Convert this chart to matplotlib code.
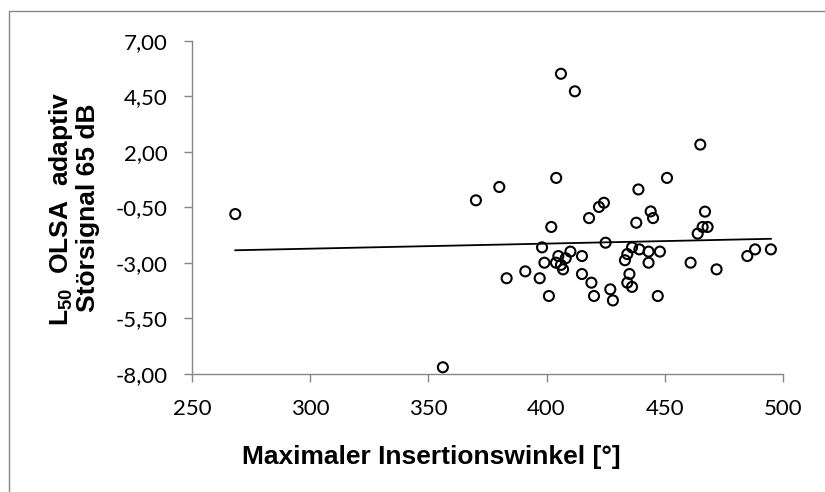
import numpy as np
import matplotlib
matplotlib.use("Agg")
import matplotlib.pyplot as plt
from matplotlib.lines import Line2D

plt.rcParams['mathtext.fontset'] = 'custom'
plt.rcParams['mathtext.rm'] = 'Liberation Sans'
plt.rcParams['mathtext.bf'] = 'Liberation Sans:bold'

# Data
insertion_angle = [406.1, 412.0, 465.1, 404.1, 451.0, 380.0, 370.1, 438.9, 424.3, 422.2,
                   418.0, 444.1, 445.1, 438.0, 402.0, 467.1, 466.1, 468.2, 464.0, 425.0,
                   398.1, 410.1, 405.0, 408.1, 415.0, 399.1, 404.0, 406.1, 407.0, 436.2,
                   434.2, 439.3, 443.2, 448.0, 433.2, 443.2, 461.0, 472.0, 485.0, 488.3,
                   495.0, 383.1, 391.0, 397.1, 415.0, 419.0, 435.1, 434.2, 436.2, 427.0,
                   401.0, 420.1, 428.1, 447.1, 356.1, 268.2]
l50_olsa = [5.51, 4.72, 2.32, 0.82, 0.82, 0.41, -0.19, 0.30, -0.30, -0.49,
            -0.99, -0.69, -0.99, -1.20, -1.39, -0.70, -1.39, -1.39, -1.69, -2.10,
            -2.31, -2.50, -2.70, -2.80, -2.70, -3.00, -3.00, -3.10, -3.30, -2.31,
            -2.61, -2.40, -2.50, -2.50, -2.89, -3.00, -3.00, -3.30, -2.70, -2.40,
            -2.40, -3.70, -3.39, -3.70, -3.51, -3.90, -3.51, -3.90, -4.09, -4.20,
            -4.50, -4.50, -4.70, -4.50, -7.71, -0.81]
x_ticks = [250, 300, 350, 400, 450, 500]
y_ticks = [-8.0, -5.5, -3.0, -0.5, 2.0, 4.5, 7.0]
x_title = "Maximaler Insertionswinkel [°]"
y_title_1 = r"$\mathbf{L_{50}}$  OLSA  adaptiv"
y_title_2 = "Störsignal 65 dB"

W, H = 825, 492
fig = plt.figure(figsize=(W / 100, H / 100), dpi=100)
x0, x1, yt, yb = 192.3, 782.7, 40.7, 373.7
ax = fig.add_axes([x0 / W, 1 - yb / H, (x1 - x0) / W, (yb - yt) / H])

axis_grey = '#868686'
x = np.array(insertion_angle)
y = np.array(l50_olsa)

# linear trend line (least squares fit)
k, d = np.polyfit(x, y, 1)
xs = np.array([x.min(), x.max()])
ax.plot(xs, k * xs + d, color='black', lw=1.3, zorder=2)

ax.scatter(x, y, s=52, facecolors='none', edgecolors='black', linewidths=1.5,
           zorder=3, clip_on=False)

ax.set_xlim(250, 500)
ax.set_ylim(-8, 7)
ax.set_xticks(x_ticks)
ax.set_xticklabels([str(v) for v in x_ticks])
ax.set_yticks(y_ticks)
ax.set_yticklabels([f"{v:.2f}".replace('.', ',') for v in y_ticks])

for s in ['top', 'right']:
    ax.spines[s].set_visible(False)
for s in ['left', 'bottom']:
    ax.spines[s].set_color(axis_grey)
    ax.spines[s].set_linewidth(1.0)

ax.tick_params(axis='both', direction='out', length=6, width=1.0, color=axis_grey,
               labelsize=16, pad=12, labelcolor='black')
for lab in ax.get_xticklabels() + ax.get_yticklabels():
    lab.set_family('Lato')

# axis titles
fig.text(431 / W, 1 - 464 / H, x_title, ha='center', va='baseline',
         fontsize=19, fontweight='bold', family='Liberation Sans')
fig.text(68 / W, 1 - 209 / H, y_title_1, rotation=90, rotation_mode='anchor',
         ha='center', va='baseline', fontsize=19, fontweight='bold',
         family='Liberation Sans')
fig.text(95 / W, 1 - 208 / H, y_title_2, rotation=90, rotation_mode='anchor',
         ha='center', va='baseline', fontsize=19, fontweight='bold',
         family='Liberation Sans')

# outer chart frame (left and top visible)
bx, by = 8.5 / W, 1 - 10.5 / H
fig.add_artist(Line2D([bx, bx, 1.02], [-0.02, by, by], transform=fig.transFigure,
                      color=axis_grey, lw=1.0))

fig.savefig('out.png', dpi=100)
